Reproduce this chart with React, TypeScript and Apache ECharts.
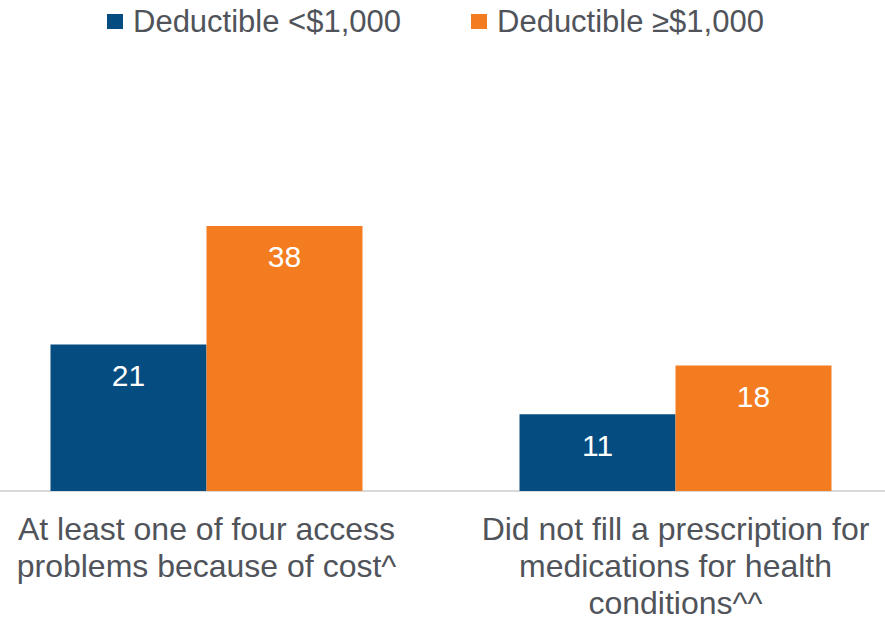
import React, { useEffect, useRef } from "react";
import * as echarts from "echarts";

const categories = [
  "At least one of four access\nproblems because of cost^",
  "Did not fill a prescription for\nmedications for health\nconditions^^",
];
const seriesNames = ["Deductible <$1,000", "Deductible ≥$1,000"];
const lowDeductible = [21, 11];
const highDeductible = [38, 18];
const colors = ["#054c80", "#f47c20"];

const FONT = "'Liberation Sans', Arial, sans-serif";
const TEXT = "#50545a";
const SHIFT = 28;

export default function App() {
  const ref = useRef<HTMLDivElement>(null);
  useEffect(() => {
    if (!ref.current) return;
    const chart = echarts.init(ref.current, null, { renderer: "svg" });
    const label = {
      show: true,
      position: "insideTop",
      distance: 16,
      color: "#ffffff",
      fontSize: 30,
      fontFamily: FONT,
    };
    chart.setOption({
      animation: false,
      textStyle: { fontFamily: FONT },
      legend: {
        top: 6,
        left: 107 + SHIFT,
        padding: 0,
        itemWidth: 16,
        itemHeight: 15,
        itemGap: 70,
        icon: "rect",
        textStyle: { fontSize: 31, color: TEXT, fontFamily: FONT, padding: [0, 0, 0, 5] },
        data: seriesNames,
      },
      grid: { left: 0, right: 0, top: 212, bottom: 127, containLabel: false },
      xAxis: {
        type: "category",
        data: categories,
        axisLine: { show: true, lineStyle: { color: "#d9d9d9", width: 2 } },
        axisTick: { show: false },
        axisLabel: {
          interval: 0,
          margin: 19,
          fontSize: 32,
          lineHeight: 37,
          color: TEXT,
          fontFamily: FONT,
          align: "center",
        },
      },
      yAxis: {
        type: "value",
        min: 0,
        max: 40,
        show: false,
        splitLine: { show: false },
      },
      series: [
        {
          name: seriesNames[0],
          type: "bar",
          data: lowDeductible,
          barWidth: 156,
          barGap: "0%",
          itemStyle: { color: colors[0] },
          label,
        },
        {
          name: seriesNames[1],
          type: "bar",
          data: highDeductible,
          barWidth: 156,
          barGap: "0%",
          itemStyle: { color: colors[1] },
          label,
        },
      ],
    });
    return () => chart.dispose();
  }, []);
  return (
    <div
      style={{
        position: "fixed",
        left: 0,
        top: 0,
        width: 885,
        height: 621,
        overflow: "hidden",
        background: "#ffffff",
      }}
    >
      <div
        ref={ref}
        style={{ position: "absolute", left: -SHIFT, top: 0, width: 885 + 2 * SHIFT - 3, height: 621 }}
      />
    </div>
  );
}
